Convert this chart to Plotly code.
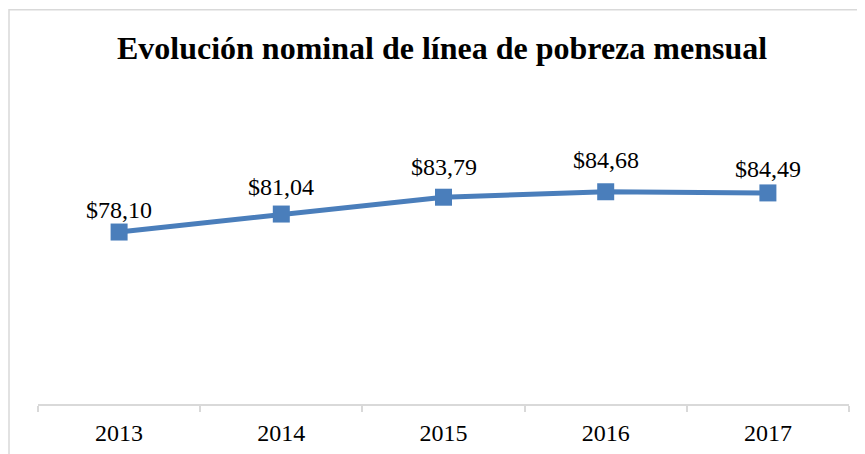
import plotly.graph_objects as go

years = ["2013", "2014", "2015", "2016", "2017"]
values = [78.10, 81.04, 83.79, 84.68, 84.49]
labels = ["$78,10", "$81,04", "$83,79", "$84,68", "$84,49"]
title = "Evolución nominal de línea de pobreza mensual"

# vertical offset (px) of each data label centre above its marker
label_shift = [22, 27, 30, 32, 23.5]

# page body has an 8px margin, so figure coords = screen coords - 8
W, H = 865, 454
ML, MR, MT, MB = 30, 24, 89.5, 58
pw = W - ML - MR
ph = H - MT - MB

SERIF = "Liberation Serif, Times New Roman, serif"
BLUE = "#4A7EBB"

fig = go.Figure()
fig.add_trace(go.Scatter(
    x=years, y=values, mode="lines+markers",
    line=dict(color=BLUE, width=5),
    marker=dict(symbol="square", size=17, color=BLUE),
    cliponaxis=False, showlegend=False,
))

# category axis: annotation x is the category index
for i, (v, lab, sh) in enumerate(zip(values, labels, label_shift)):
    fig.add_annotation(x=i, y=v, xref="x", yref="y", text=lab, showarrow=False,
                       yanchor="middle", xanchor="center", yshift=sh,
                       font=dict(family=SERIF, size=24, color="#000000"))

# chart border (light gray frame)
fig.add_shape(type="rect", xref="paper", yref="paper",
              x0=(1 - ML) / pw, x1=(W + 20 - ML) / pw,
              y0=-(MB + 20) / ph, y1=(H - 1 - MB) / ph,
              line=dict(color="#D9D9D9", width=1.5), fillcolor="rgba(0,0,0,0)", layer="below")

fig.update_layout(
    width=W, height=H,
    margin=dict(l=ML, r=MR, t=MT, b=MB),
    paper_bgcolor="white", plot_bgcolor="white",
    title=dict(text="<b>" + title + "</b>", x=434 / W, xanchor="center", y=1 - 40 / H, yanchor="middle",
               font=dict(family=SERIF, size=32, color="#000000")),
    xaxis=dict(type="category", range=[-0.5, 4.5], showgrid=False, zeroline=False,
               showline=True, linecolor="#D9D9D9", linewidth=1.5,
               ticks="outside", tickson="boundaries", ticklen=6, tickcolor="#D9D9D9", tickwidth=1.5,
               ticklabelstandoff=6,
               tickfont=dict(family=SERIF, size=24, color="#000000")),
    yaxis=dict(range=[50, 100], visible=False, showgrid=False, zeroline=False),
)

fig.write_html("out.html")
